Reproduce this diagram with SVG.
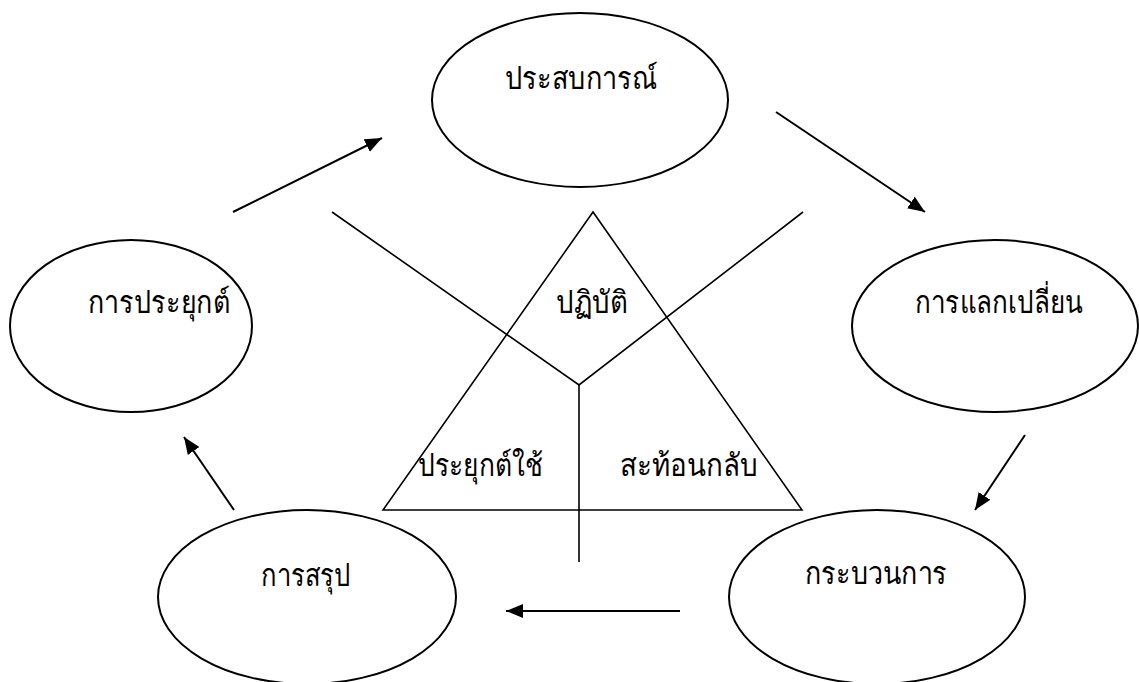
<svg xmlns="http://www.w3.org/2000/svg" width="1139" height="682" viewBox="0 0 1139 682">
<style>
.node ellipse{fill:none;stroke:#000;stroke-width:2}
.lbl{font-family:"Liberation Serif","DejaVu Serif",serif;font-size:31px;font-weight:300;fill:#000;text-anchor:middle}
.ln{fill:none;stroke:#000;stroke-width:1.6}
.arr{fill:none;stroke:#000;stroke-width:2;marker-end:url(#ah)}
</style>
<defs>
<marker id="ah" markerUnits="userSpaceOnUse" markerWidth="17" markerHeight="14" viewBox="0 0 17 14" refX="17" refY="7" orient="auto">
<path d="M0,0 L17,7 L0,14 z" fill="#000"/>
</marker>
</defs>
<rect width="1139" height="682" fill="#fff"/>
<g id="n-experience" class="node"><ellipse cx="580" cy="100" rx="148" ry="87"/><text class="lbl" x="581" y="89" textLength="153" lengthAdjust="spacingAndGlyphs">ประสบการณ์</text></g>
<g id="n-apply" class="node"><ellipse cx="131" cy="326" rx="121" ry="86"/><text class="lbl" x="159" y="313" textLength="142" lengthAdjust="spacingAndGlyphs">การประยุกต์</text></g>
<g id="n-exchange" class="node"><ellipse cx="995" cy="326" rx="143" ry="86"/><text class="lbl" x="999" y="313" textLength="168" lengthAdjust="spacingAndGlyphs">การแลกเปลี่ยน</text></g>
<g id="n-conclude" class="node"><ellipse cx="307" cy="597" rx="149" ry="87"/><text class="lbl" x="306" y="586" textLength="90" lengthAdjust="spacingAndGlyphs">การสรุป</text></g>
<g id="n-process" class="node"><ellipse cx="877" cy="597" rx="148" ry="87"/><text class="lbl" x="876" y="584" textLength="142" lengthAdjust="spacingAndGlyphs">กระบวนการ</text></g>
<g id="n-triangle">
<polygon class="ln" points="593,212 383,510 802,510"/>
<text class="lbl" x="592" y="313" textLength="72" lengthAdjust="spacingAndGlyphs">ปฏิบัติ</text>
<text class="lbl" x="480" y="476" textLength="125" lengthAdjust="spacingAndGlyphs">ประยุกต์ใช้</text>
<text class="lbl" x="689" y="476" textLength="138" lengthAdjust="spacingAndGlyphs">สะท้อนกลับ</text>
</g>
<g id="connectors">
<polyline class="ln" points="332,212 579,385 803,212"/>
<line class="ln" x1="579" y1="385" x2="579" y2="562"/>
<line class="arr" x1="233" y1="212" x2="382" y2="138"/>
<line class="arr" x1="776" y1="112" x2="925" y2="212"/>
<line class="arr" x1="1025" y1="435" x2="975" y2="510"/>
<line class="arr" x1="680" y1="611" x2="506" y2="611"/>
<line class="arr" x1="234" y1="510" x2="184" y2="437"/>
</g>
</svg>
